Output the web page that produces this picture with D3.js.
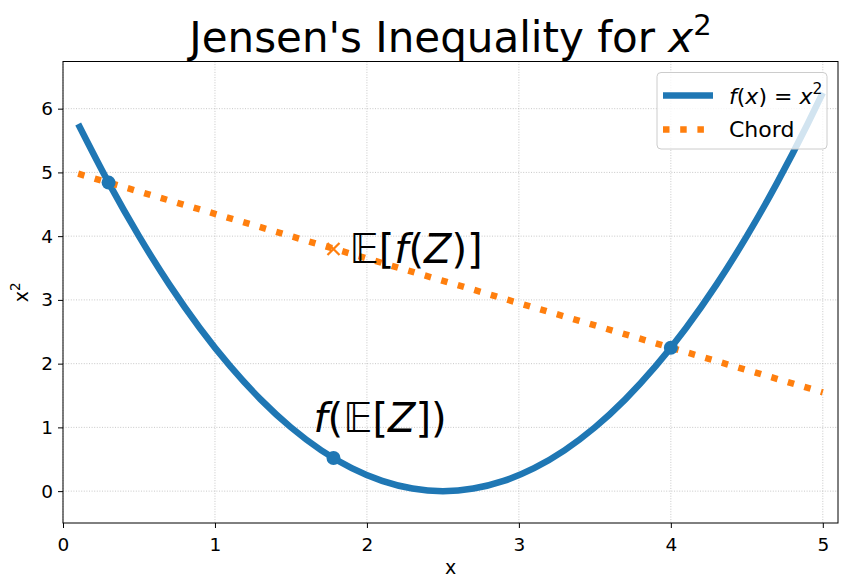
<!DOCTYPE html>
<html>
<head>
<meta charset="utf-8">
<script src="https://cdn.jsdelivr.net/npm/d3@7"></script>
<style>
  body { margin: 0; background: #fff; }
  text { font-family: "DejaVu Sans", sans-serif; }
</style>
</head>
<body>
<svg id="chart"></svg>
<script>
// curve f(x) = (x - 2.5)^2
const curveX = [0.1, 0.3, 0.5, 0.7, 0.9, 1.1, 1.3, 1.5, 1.7, 1.9, 2.1, 2.3, 2.5,
                2.7, 2.9, 3.1, 3.3, 3.5, 3.7, 3.9, 4.1, 4.3, 4.5, 4.7, 4.9, 5.0];
const curveY = [5.76, 4.84, 4.0, 3.24, 2.56, 1.96, 1.44, 1.0, 0.64, 0.36, 0.16, 0.04, 0,
                0.04, 0.16, 0.36, 0.64, 1.0, 1.44, 1.96, 2.56, 3.24, 4.0, 4.84, 5.76, 6.25];
// chord end points
const chordX = [0.1, 5.0];
const chordY = [4.98, 1.55];
// the two sample points
const pointX = [0.3, 4.0];
const pointY = [4.84, 2.25];
// mean point
const meanX = 1.78;
const meanFY = 0.52;   // f(E[Z])
const meanEY = 3.80;   // E[f(Z)]
const xTicks = [0, 1, 2, 3, 4, 5];
const yTicks = [0, 1, 2, 3, 4, 5, 6];

const width = 847, height = 587;
const margin = { top: 61.5, right: 9, bottom: 64, left: 63 };
const iw = width - margin.left - margin.right;
const ih = height - margin.top - margin.bottom;
const blue = "#1f77b4", orange = "#ff7f0e";

const svg = d3.select("#chart").attr("width", width).attr("height", height);
const chart = svg.append("g").attr("transform", `translate(${margin.left},${margin.top})`);

const xscale = d3.scaleLinear().domain([0, 5.1]).range([0, iw]);
const yscale = d3.scaleLinear().domain([-0.5, 6.74]).range([ih, 0]);

// grid
chart.append("g").selectAll("line").data(xTicks).join("line")
    .attr("x1", d => xscale(d)).attr("x2", d => xscale(d))
    .attr("y1", 0).attr("y2", ih)
    .attr("stroke", "#b0b0b0").attr("stroke-width", 0.7).attr("stroke-dasharray", "1,1.6");
chart.append("g").selectAll("line").data(yTicks).join("line")
    .attr("y1", d => yscale(d)).attr("y2", d => yscale(d))
    .attr("x1", 0).attr("x2", iw)
    .attr("stroke", "#b0b0b0").attr("stroke-width", 0.7).attr("stroke-dasharray", "1,1.6");

// axes
const xaxis = d3.axisBottom(xscale).tickValues(xTicks).tickSize(5).tickPadding(5).tickFormat(d3.format("d"));
const yaxis = d3.axisLeft(yscale).tickValues(yTicks).tickSize(5).tickPadding(5).tickFormat(d3.format("d"));
const xg = chart.append("g").attr("transform", `translate(0,${ih})`).call(xaxis);
const yg = chart.append("g").call(yaxis);
[xg, yg].forEach(g => {
    g.attr("font-size", null).attr("font-family", null);
    g.select(".domain").remove();
    g.selectAll("line").attr("stroke", "#000").attr("stroke-width", 1);
    g.selectAll("text").attr("font-size", 18.5).attr("fill", "#000");
});
xg.selectAll("text").attr("dy", "0.95em");

// curve
const pts = curveX.map((x, i) => [x, curveY[i]]);
const line = d3.line().x(d => xscale(d[0])).y(d => yscale(d[1])).curve(d3.curveMonotoneX);
chart.append("path").datum(pts).attr("d", line)
    .attr("fill", "none").attr("stroke", blue).attr("stroke-width", 6.5);

// chord
const chordPts = chordX.map((x, i) => [x, chordY[i]]);
chart.append("path").datum(chordPts).attr("d", d3.line().x(d => xscale(d[0])).y(d => yscale(d[1])))
    .attr("fill", "none").attr("stroke", orange).attr("stroke-width", 6.5)
    .attr("stroke-dasharray", "6.5,10.7");

// sample points
chart.selectAll("circle.pt").data(pointX.map((x, i) => [x, pointY[i]])).join("circle")
    .attr("class", "pt")
    .attr("cx", d => xscale(d[0])).attr("cy", d => yscale(d[1]))
    .attr("r", 7).attr("fill", blue);
chart.append("circle")
    .attr("cx", xscale(meanX)).attr("cy", yscale(meanFY)).attr("r", 7).attr("fill", blue);

// x marker
const mx = xscale(meanX), my = yscale(meanEY), s = 6;
chart.append("path")
    .attr("d", `M${mx - s},${my - s}L${mx + s},${my + s}M${mx - s},${my + s}L${mx + s},${my - s}`)
    .attr("stroke", orange).attr("stroke-width", 2.2);

// annotations
const ann1 = chart.append("text").attr("x", xscale(meanX) + 16).attr("y", my + 14)
    .attr("font-size", 40).attr("fill", "#000");
ann1.append("tspan").attr("font-style", "italic").text("𝔼");
ann1.append("tspan").text("[");
ann1.append("tspan").attr("font-style", "italic").text("f");
ann1.append("tspan").text("(");
ann1.append("tspan").attr("font-style", "italic").text("Z");
ann1.append("tspan").text(")]");

const ann2 = chart.append("text").attr("x", xscale(meanX) - 20).attr("y", yscale(meanFY) - 26)
    .attr("font-size", 40).attr("fill", "#000");
ann2.append("tspan").attr("font-style", "italic").text("f");
ann2.append("tspan").text("(");
ann2.append("tspan").attr("font-style", "italic").text("𝔼");
ann2.append("tspan").text("[");
ann2.append("tspan").attr("font-style", "italic").text("Z");
ann2.append("tspan").text("])");

// frame
chart.append("rect").attr("width", iw).attr("height", ih)
    .attr("fill", "none").attr("stroke", "#000").attr("stroke-width", 1);

// title
const title = svg.append("text").attr("x", margin.left + iw / 2).attr("y", 52)
    .attr("text-anchor", "middle").attr("font-size", 42).attr("fill", "#000");
title.append("tspan").text("Jensen's Inequality for ");
title.append("tspan").attr("font-style", "italic").text("x");
title.append("tspan").attr("font-size", 29).attr("dy", -17).text("2");

// axis labels
svg.append("text").attr("x", margin.left + iw / 2).attr("y", 574)
    .attr("text-anchor", "middle").attr("font-size", 19).text("x");
const yl = svg.append("text").attr("transform", `translate(28,${margin.top + ih / 2}) rotate(-90)`)
    .attr("text-anchor", "middle").attr("font-size", 19);
yl.append("tspan").text("x");
yl.append("tspan").attr("font-size", 13.5).attr("dy", -8).text("2");

// legend
const lg = chart.append("g").attr("transform", `translate(${657 - margin.left},${72.5 - margin.top})`);
lg.append("rect").attr("width", 170).attr("height", 76.5).attr("rx", 4)
    .attr("fill", "#fff").attr("fill-opacity", 0.8).attr("stroke", "#ccc").attr("stroke-width", 1);
lg.append("line").attr("x1", 6).attr("x2", 56).attr("y1", 23).attr("y2", 23)
    .attr("stroke", blue).attr("stroke-width", 6.5);
lg.append("line").attr("x1", 6).attr("x2", 56).attr("y1", 57).attr("y2", 57)
    .attr("stroke", orange).attr("stroke-width", 6.5).attr("stroke-dasharray", "6.5,10.7");
const l1 = lg.append("text").attr("x", 72).attr("y", 31).attr("font-size", 22);
l1.append("tspan").attr("font-style", "italic").text("f");
l1.append("tspan").text("(");
l1.append("tspan").attr("font-style", "italic").text("x");
l1.append("tspan").text(") = ");
l1.append("tspan").attr("font-style", "italic").text("x");
l1.append("tspan").attr("font-size", 15.5).attr("dy", -10).text("2");
lg.append("text").attr("x", 72).attr("y", 64.5).attr("font-size", 22).text("Chord");
</script>
</body>
</html>
